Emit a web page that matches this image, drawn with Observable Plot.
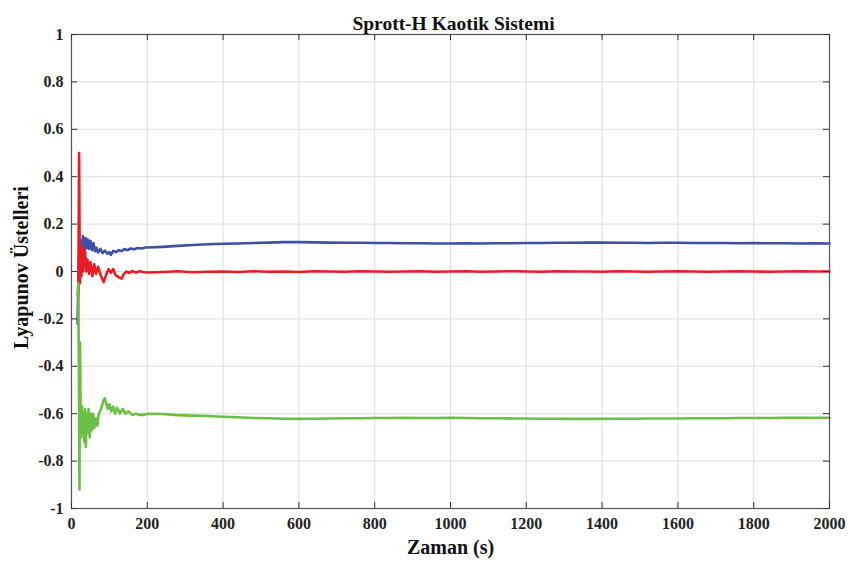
<!DOCTYPE html>
<html>
<head>
<meta charset="utf-8">
<script src="https://cdn.jsdelivr.net/npm/d3@7"></script>
<script src="https://cdn.jsdelivr.net/npm/@observablehq/plot@0.6"></script>
<style>
  html, body { margin: 0; padding: 0; background: #fff; }
  #chart svg { display: block; }
</style>
</head>
<body>
<div id="chart"></div>
<script>
// ---- data ----
const title = "Sprott-H Kaotik Sistemi";
const xLabel = "Zaman (s)";
const yLabel = "Lyapunov Üstelleri";
const xTicks = [0, 200, 400, 600, 800, 1000, 1200, 1400, 1600, 1800, 2000];
const yTicks = [-1, -0.8, -0.6, -0.4, -0.2, 0, 0.2, 0.4, 0.6, 0.8, 1];

// transient part (t < 200)
const blueT = [16, 18, 20, 22, 24, 26, 28, 30, 32, 34, 36, 38, 40, 43, 46, 50, 54, 58, 62, 66, 70, 76, 82, 88, 95, 100, 104, 110, 118, 125, 132, 140, 148, 156, 165, 175, 185, 195];
const blueV = [-0.22, -0.05, 0.08, 0.10, 0.05, 0.13, 0.08, 0.15, 0.10, 0.14, 0.09, 0.14, 0.10, 0.135, 0.095, 0.13, 0.09, 0.12, 0.085, 0.10, 0.08, 0.095, 0.078, 0.088, 0.075, 0.082, 0.07, 0.087, 0.082, 0.09, 0.086, 0.095, 0.09, 0.097, 0.094, 0.099, 0.097, 0.101];

const redT = [18, 20, 22, 24, 26, 28, 30, 32, 34, 36, 38, 42, 46, 50, 55, 60, 65, 70, 78, 85, 92, 98, 104, 110, 116, 125, 132, 138, 145, 152, 160, 170, 180, 190];
const redV = [-0.10, 0.50, -0.05, 0.10, -0.02, 0.10, 0.00, 0.10, 0.02, 0.08, 0.00, 0.05, -0.01, 0.04, -0.02, 0.03, -0.01, 0.02, -0.02, -0.045, -0.01, 0.01, -0.005, 0.01, -0.015, -0.025, -0.03, -0.01, 0.00, -0.006, 0.002, -0.004, 0.001, -0.002];

const greenT = [16, 18, 19.5, 21, 22.5, 24, 26, 28, 30, 32, 34, 36, 38, 40, 42, 45, 48, 51, 54, 57, 60, 64, 68, 72, 78, 85, 88, 92, 96, 100, 105, 110, 115, 120, 128, 135, 142, 150, 160, 170, 180, 190];
const greenV = [-0.10, -0.05, -0.40, -0.92, -0.30, -0.58, -0.70, -0.57, -0.66, -0.60, -0.72, -0.58, -0.74, -0.60, -0.68, -0.58, -0.70, -0.60, -0.67, -0.60, -0.66, -0.62, -0.65, -0.60, -0.58, -0.54, -0.535, -0.56, -0.58, -0.56, -0.59, -0.57, -0.60, -0.575, -0.60, -0.58, -0.60, -0.59, -0.605, -0.60, -0.605, -0.605];

// settled part (t >= 200), shared time grid
const tailT = [200, 240, 280, 320, 360, 400, 440, 480, 520, 560, 600, 640, 680, 720, 760, 800, 840, 880, 920, 960, 1000, 1040, 1080, 1120, 1160, 1200, 1240, 1280, 1320, 1360, 1400, 1440, 1480, 1520, 1560, 1600, 1640, 1680, 1720, 1760, 1800, 1840, 1880, 1920, 1960, 2000];
const blueTail = [0.101, 0.104, 0.108, 0.112, 0.115, 0.117, 0.118, 0.120, 0.122, 0.124, 0.124, 0.123, 0.122, 0.121, 0.121, 0.120, 0.120, 0.119, 0.119, 0.118, 0.118, 0.119, 0.118, 0.119, 0.119, 0.120, 0.120, 0.121, 0.121, 0.122, 0.122, 0.121, 0.121, 0.120, 0.121, 0.121, 0.120, 0.120, 0.120, 0.119, 0.120, 0.119, 0.119, 0.118, 0.119, 0.118];
const redTail = [-0.004, -0.002, 0.001, -0.003, -0.001, 0.000, -0.002, 0.001, -0.001, 0.000, -0.002, 0.001, 0.000, -0.001, 0.001, 0.000, -0.001, 0.000, 0.001, -0.001, 0.000, 0.001, -0.001, 0.000, 0.001, 0.000, -0.001, 0.001, 0.000, 0.000, -0.001, 0.001, 0.000, -0.001, 0.000, 0.001, 0.000, -0.001, 0.000, 0.001, 0.000, -0.001, 0.000, 0.001, 0.000, 0.000];
const greenTail = [-0.600, -0.601, -0.606, -0.608, -0.610, -0.613, -0.615, -0.618, -0.619, -0.621, -0.622, -0.621, -0.620, -0.619, -0.619, -0.618, -0.618, -0.617, -0.618, -0.618, -0.617, -0.618, -0.619, -0.619, -0.620, -0.620, -0.621, -0.621, -0.622, -0.622, -0.622, -0.621, -0.621, -0.620, -0.620, -0.620, -0.619, -0.619, -0.619, -0.618, -0.618, -0.618, -0.617, -0.617, -0.617, -0.617];

const seriesNames = ["λ1", "λ2", "λ3"];
const seriesColors = ["#3c50a5", "#ed1c24", "#6dbe45"];

// ---- build tables ----
function build(name, T, V, tailV) {
  const rows = T.map((t, i) => ({ s: name, t, v: V[i] }));
  tailT.forEach((t, i) => rows.push({ s: name, t, v: tailV[i] }));
  return rows;
}
const data = [
  ...build(seriesNames[0], blueT, blueV, blueTail),
  ...build(seriesNames[1], redT, redV, redTail),
  ...build(seriesNames[2], greenT, greenV, greenTail)
];

const W = 849, H = 569;
const mL = 71, mR = 20, mT = 34, mB = 61;
const pw = W - mL - mR, ph = H - mT - mB;
const font = "'Liberation Serif', 'Times New Roman', serif";
const tick = 6;

const chart = Plot.plot({
  width: W, height: H,
  marginLeft: mL, marginRight: mR, marginTop: mT, marginBottom: mB,
  style: { fontFamily: font, background: "#fff" },
  x: { domain: [0, 2000] },
  y: { domain: [-1, 1] },
  color: { domain: seriesNames, range: seriesColors },
  marks: [
    Plot.ruleX(xTicks, { x: d => d, stroke: "#dcdcdc", strokeWidth: 1 }),
    Plot.ruleY(yTicks, { y: d => d, stroke: "#dcdcdc", strokeWidth: 1 }),
    Plot.line(data, { x: "t", y: "v", z: "s", stroke: "s", strokeWidth: 2.6, strokeLinejoin: "round", curve: "linear" }),
    Plot.frame({ stroke: "#555", strokeWidth: 1.2 }),
    // inward ticks on all four sides
    Plot.tickX(xTicks, { x: d => d, insetTop: ph - tick, stroke: "#333" }),
    Plot.tickX(xTicks, { x: d => d, insetBottom: ph - tick, stroke: "#333" }),
    Plot.tickY(yTicks, { y: d => d, insetRight: pw - tick, stroke: "#333" }),
    Plot.tickY(yTicks, { y: d => d, insetLeft: pw - tick, stroke: "#333" }),
    Plot.axisX(xTicks, { tickSize: 0, tickPadding: 9, fontSize: 16, fontWeight: "bold", fill: "#222", label: null, tickFormat: d => String(d) }),
    Plot.axisY(yTicks, { tickSize: 0, tickPadding: 8, fontSize: 16, fontWeight: "bold", fill: "#222", label: null, tickFormat: d => String(d) }),
    Plot.text([title], { frameAnchor: "top", dy: -18, dx: 3, fontSize: 19.5, fontWeight: "bold", fill: "#111" }),
    Plot.text([xLabel], { frameAnchor: "bottom", dy: 45, fontSize: 20, fontWeight: "bold", fill: "#111" }),
    Plot.text([yLabel], { frameAnchor: "left", textAnchor: "middle", dx: -50, dy: -4, rotate: -90, fontSize: 20, fontWeight: "bold", fill: "#111" })
  ]
});
document.getElementById("chart").appendChild(chart);
</script>
</body>
</html>
